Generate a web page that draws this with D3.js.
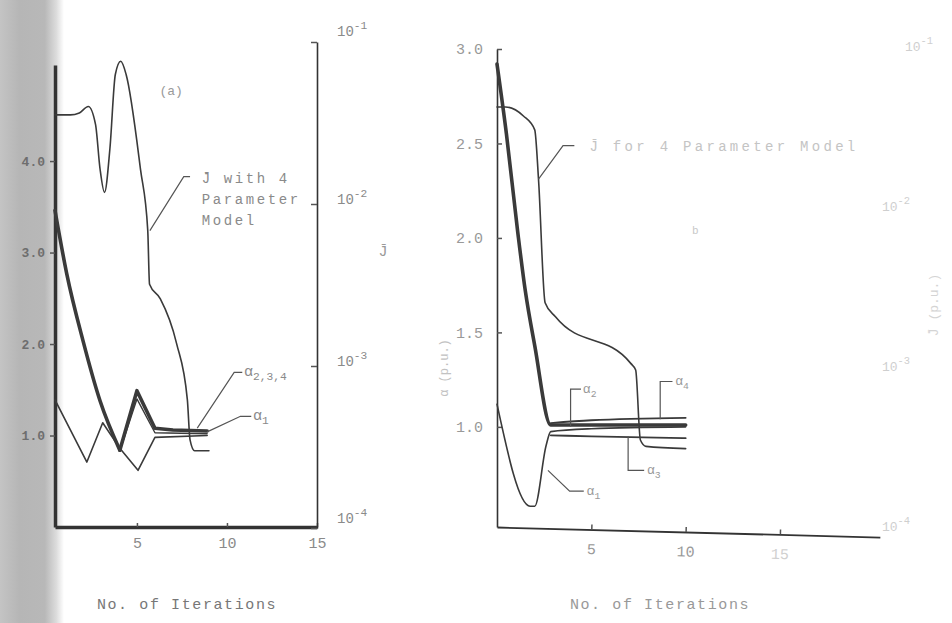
<!DOCTYPE html>
<html>
<head>
<meta charset="utf-8">
<script src="https://cdn.jsdelivr.net/npm/d3@7"></script>
<style>
  body { margin: 0; background: #fff; }
  svg { display: block; }
  text { font-family: 'Liberation Mono', 'DejaVu Sans Mono', monospace; }
</style>
</head>
<body>
<div id="chart"></div>
<script>
// ---- panel (a): 4 parameter model, J on log axis ----
const aJIter = [0.45, 1.3, 1.8, 2.3, 2.7, 2.95, 3.2, 3.5, 3.8, 4.1, 4.4, 5.2, 5.6, 5.7, 6.3, 7.2, 7.8, 7.95, 8.2, 9.0];
const aJVal  = [0.0355, 0.0355, 0.0365, 0.040, 0.031, 0.0165, 0.0118, 0.022, 0.063, 0.076, 0.063, 0.0163, 0.0069, 0.0032, 0.0026, 0.00138, 0.00062, 0.00035, 0.0003, 0.0003];

// alpha 2,3,4 (thick) - smooth descent then zigzag
const aThickIter = [0.45, 1.1, 2.0, 2.95, 4.05];
const aThickVal  = [3.46, 2.77, 2.04, 1.38, 0.84];
const aZigIter   = [4.05, 5.0, 6.0, 7.0, 8.9];
const aZigVal    = [0.84, 1.49, 1.08, 1.06, 1.05];
const aSplitIter = [4.1, 5.0, 6.0, 8.9];
const aSplitVal  = [0.86, 1.40, 1.03, 1.02];
// alpha 1
const a1Iter = [0.45, 2.22, 3.1, 4.05, 5.06, 6.0, 8.9];
const a1Val  = [1.39, 0.71, 1.14, 0.86, 0.62, 0.98, 1.0];

const aAlphaTicks = [1, 2, 3, 4];
const aIterTicks = [5, 10, 15];
const jTicks = [1e-1, 1e-2, 1e-3, 1e-4];
const jTickExp = ['-1', '-2', '-3', '-4'];

// ---- panel (b) ----
const bJIter = [0, 0.45, 1.4, 2.0, 2.2, 2.55, 3.1, 7.1, 7.35, 7.6, 7.9, 10];
const bJVal  = [0.041, 0.041, 0.036, 0.0295, 0.0145, 0.00245, 0.002, 0.00102, 0.00093, 0.00034, 0.00031, 0.0003];
const bThickIter = [0, 0.5, 1.1, 1.5, 2.0, 2.85, 10];
const bThickVal  = [2.92, 2.55, 2.03, 1.72, 1.43, 1.01, 1.01];
const b1Iter = [0, 1.75, 2.0, 2.6, 2.85, 5, 10];
const b1Val  = [1.12, 0.58, 0.58, 0.90, 0.975, 0.99, 1.0];
const b3Iter = [2.85, 5, 10];
const b3Val  = [0.955, 0.95, 0.94];
const b4Iter = [2.85, 5, 10];
const b4Val  = [1.02, 1.035, 1.048];
const bAlphaTicks = [1.0, 1.5, 2.0, 2.5, 3.0];
const bIterTicks = [5, 10, 15];

const W = 952, H = 623;
const ink = '#3a3a3a';
const svg = d3.select('#chart').append('svg').attr('width', W).attr('height', H);

// scanned binding shadow on the left
const grad = svg.append('defs').append('linearGradient').attr('id', 'band');
grad.append('stop').attr('offset', '0').attr('stop-color', '#c4c4c4');
grad.append('stop').attr('offset', '0.3').attr('stop-color', '#b6b6b6');
grad.append('stop').attr('offset', '0.7').attr('stop-color', '#b8b8b8');
grad.append('stop').attr('offset', '0.88').attr('stop-color', '#dcdcdc');
grad.append('stop').attr('offset', '1').attr('stop-color', '#ffffff');
svg.append('rect').attr('x', 0).attr('y', 0).attr('width', 64).attr('height', H).attr('fill', 'url(#band)');

const xA = d3.scaleLinear().domain([0.45, 15]).range([55, 317]);
const yA = d3.scaleLinear().domain([0, 5.05]).range([527, 65]);
const yJA = d3.scaleLog().domain([1e-4, 1e-1]).range([528, 42]);

const xB = d3.scaleLinear().domain([0, 20.3]).range([497, 880]);
const yB = d3.scaleLinear().domain([0.47, 3.0]).range([527, 49]);
const yJB = d3.scaleLog().domain([1e-4, 1e-1]).range([525, 45]);

function zip(xs, ys) { return xs.map((x, i) => [x, ys[i]]); }

function drawLine(x, y, xs, ys, width, curve) {
  svg.append('path')
    .attr('d', d3.line().x(d => x(d[0])).y(d => y(d[1])).curve(curve)(zip(xs, ys)))
    .attr('fill', 'none').attr('stroke', ink).attr('stroke-width', width)
    .attr('stroke-linejoin', 'round').attr('stroke-linecap', 'round');
}

function styleAxis(g, domainWidth, labelColor, size) {
  g.select('.domain').attr('stroke', '#333').attr('stroke-width', domainWidth);
  g.selectAll('.tick line').attr('stroke', '#555').attr('stroke-width', 1.5);
  g.selectAll('.tick text').attr('fill', labelColor).attr('font-size', size)
    .attr('font-family', "'Liberation Mono', 'DejaVu Sans Mono', monospace");
}

function supLabel(x, y, base, exp, color, size) {
  const t = svg.append('text').attr('x', x).attr('y', y).attr('fill', color).attr('font-size', size);
  t.append('tspan').text(base);
  t.append('tspan').attr('dy', -7).attr('font-size', size * 0.8).text(exp);
}

function subLabel(x, y, base, sub, color, size) {
  const t = svg.append('text').attr('x', x).attr('y', y).attr('fill', color).attr('font-size', size);
  t.append('tspan').text(base);
  t.append('tspan').attr('dy', 4).attr('font-size', size * 0.75).text(sub);
}

function leader(points) {
  svg.append('path').attr('d', d3.line()(points))
    .attr('fill', 'none').attr('stroke', '#555').attr('stroke-width', 1.2);
}

// ===== panel (a) axes =====
const gAL = svg.append('g').attr('transform', 'translate(55,0)')
  .call(d3.axisLeft(yA).tickValues(aAlphaTicks).tickSize(5).tickSizeOuter(0).tickPadding(5).tickFormat(d3.format('.1f')));
styleAxis(gAL, 3.5, '#6e6e6e', 13);
gAL.selectAll('.tick text').attr('font-weight', 'bold');

const gAB = svg.append('g').attr('transform', 'translate(0,527)')
  .call(d3.axisBottom(xA).tickValues(aIterTicks).tickSize(-4).tickSizeOuter(0).tickPadding(10).tickFormat(d3.format('d')));
styleAxis(gAB, 3.5, '#8a8a8a', 15);

const gAJ = svg.append('g').attr('transform', 'translate(317,0)')
  .call(d3.axisLeft(yJA).tickValues(jTicks).tickSize(6).tickSizeOuter(0).tickFormat(''));
styleAxis(gAJ, 1.6, '#888', 13);
jTicks.forEach((v, i) => supLabel(337, yJA(v) + (i === 0 ? -6 : i === 3 ? -5 : 0), '10', jTickExp[i], '#8a8a8a', 14));
svg.append('text').attr('x', 383).attr('y', 256).attr('fill', '#999').attr('font-size', 15)
  .attr('text-anchor', 'middle').text('J\u0304');

// ===== panel (a) curves =====
drawLine(xA, yJA, aJIter, aJVal, 1.6, d3.curveMonotoneX);
drawLine(xA, yA, aThickIter, aThickVal, 3.6, d3.curveMonotoneX);
drawLine(xA, yA, aZigIter, aZigVal, 3.6, d3.curveLinear);
drawLine(xA, yA, aSplitIter, aSplitVal, 1.4, d3.curveLinear);
drawLine(xA, yA, a1Iter, a1Val, 1.6, d3.curveLinear);

// panel (a) annotations
svg.append('text').attr('x', xA(6.9)).attr('y', yA(4.72)).attr('fill', '#9a9a9a')
  .attr('font-size', 13).attr('text-anchor', 'middle').text('(a)');
leader([[xA(5.72), yA(3.24)], [xA(7.6), yA(3.83)], [xA(7.95), yA(3.83)]]);
['J\u0304 with 4', 'Parameter', 'Model'].forEach((s, i) => {
  svg.append('text').attr('x', xA(8.6)).attr('y', yA(3.76) + i * 21)
    .attr('fill', '#8a8a8a').attr('font-size', 14).attr('letter-spacing', 2.6).text(s);
});
leader([[xA(8.35), yA(1.08)], [xA(10.4), yA(1.69)], [xA(10.85), yA(1.69)]]);
subLabel(xA(10.95), yA(1.65), '\u03b1', '2,3,4', '#8a8a8a', 15);
leader([[xA(8.9), yA(1.04)], [xA(10.75), yA(1.21)], [xA(11.35), yA(1.21)]]);
subLabel(xA(11.45), yA(1.17), '\u03b1', '1', '#8a8a8a', 15);

svg.append('text').attr('x', 187).attr('y', 609).attr('fill', '#777').attr('font-size', 15)
  .attr('letter-spacing', 1.6).attr('text-anchor', 'middle').text('No. of Iterations');

// ===== panel (b) axes =====
const gBL = svg.append('g').attr('transform', 'translate(497,0)')
  .call(d3.axisLeft(yB).tickValues(bAlphaTicks).tickSize(-5).tickSizeOuter(0).tickPadding(14).tickFormat(d3.format('.1f')));
styleAxis(gBL, 1.6, '#999', 15);

const gBB = svg.append('g').attr('transform', 'translate(0,527) rotate(1.5,497,0)')
  .call(d3.axisBottom(xB).tickValues(bIterTicks).tickSize(-5).tickSizeOuter(0).tickPadding(14).tickFormat(d3.format('d')));
styleAxis(gBB, 1.8, '#999', 15);
gBB.selectAll('.tick text').filter(d => d === 15).attr('fill', '#d0d0d0');

svg.append('text').attr('transform', 'translate(448,368) rotate(-90)').attr('fill', '#c2c2c2')
  .attr('font-size', 12).attr('text-anchor', 'middle').text('\u03b1 (p.u.)');

// faint right-hand J axis labels of panel (b)
jTicks.forEach((v, i) => supLabel(i === 0 ? 905 : 882, yJB(v) + 6, '10', jTickExp[i], '#cfcfcf', 13));
svg.append('text').attr('transform', 'translate(938,305) rotate(-90)').attr('fill', '#d4d4d4')
  .attr('font-size', 13).attr('text-anchor', 'middle').text('J\u0304 (p.u.)');

// ===== panel (b) curves =====
drawLine(xB, yJB, bJIter, bJVal, 1.6, d3.curveMonotoneX);
drawLine(xB, yB, bThickIter, bThickVal, 3.6, d3.curveMonotoneX);
drawLine(xB, yB, b1Iter, b1Val, 1.6, d3.curveMonotoneX);
drawLine(xB, yB, b3Iter, b3Val, 1.8, d3.curveMonotoneX);
drawLine(xB, yB, b4Iter, b4Val, 1.8, d3.curveMonotoneX);

// panel (b) annotations
leader([[xB(2.2), yJB(0.0145)], [xB(3.5), yJB(0.0235)], [xB(4.1), yJB(0.0235)]]);
svg.append('text').attr('x', xB(4.9)).attr('y', yJB(0.0235) + 5).attr('fill', '#c4c4c4')
  .attr('font-size', 14).attr('letter-spacing', 3.3).text('J\u0304 for 4 Parameter Model');
svg.append('text').attr('x', 692).attr('y', 234).attr('fill', '#c8c8c8').attr('font-size', 11).text('b');

leader([[xB(3.9), yB(1.0)], [xB(3.9), yB(1.2)], [xB(4.45), yB(1.2)]]);
subLabel(xB(4.55), yB(1.18), '\u03b1', '2', '#999', 13);
leader([[xB(8.65), yB(1.04)], [xB(8.65), yB(1.24)], [xB(9.3), yB(1.24)]]);
subLabel(xB(9.45), yB(1.22), '\u03b1', '4', '#999', 13);
leader([[xB(6.95), yB(0.95)], [xB(6.95), yB(0.77)], [xB(7.8), yB(0.77)]]);
subLabel(xB(7.95), yB(0.75), '\u03b1', '3', '#999', 13);
leader([[xB(2.7), yB(0.77)], [xB(3.85), yB(0.66)], [xB(4.6), yB(0.66)]]);
subLabel(xB(4.75), yB(0.64), '\u03b1', '1', '#999', 13);

svg.append('text').attr('x', 660).attr('y', 609).attr('fill', '#999').attr('font-size', 15)
  .attr('letter-spacing', 1.6).attr('text-anchor', 'middle').text('No. of Iterations');
</script>
</body>
</html>
